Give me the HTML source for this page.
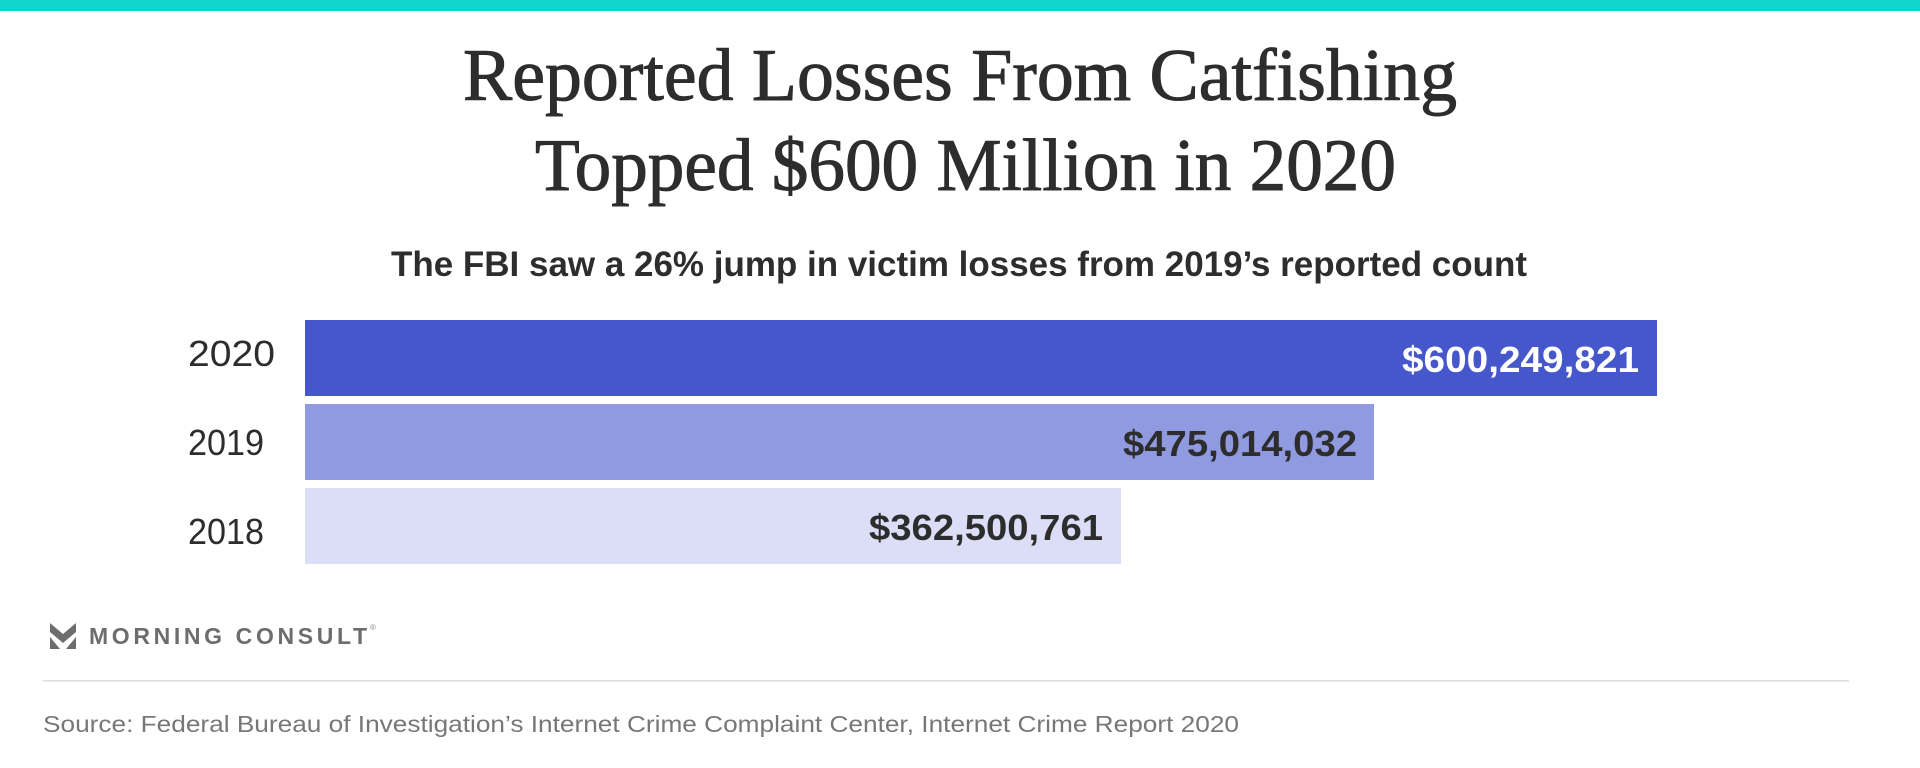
<!DOCTYPE html>
<html>
<head>
<meta charset="utf-8">
<style>
  html, body { margin: 0; padding: 0; background: #ffffff; }
  body { width: 1920px; height: 768px; overflow: hidden; }
  svg { display: block; }
</style>
</head>
<body>
<svg width="1920" height="768" viewBox="0 0 1920 768" xmlns="http://www.w3.org/2000/svg">
  <rect x="0" y="0" width="1920" height="768" fill="#ffffff"/>
  <!-- top teal bar -->
  <rect x="0" y="0" width="1920" height="11" fill="#10d5cc"/>

  <!-- Title -->
  <text x="463" y="100" font-family="'Liberation Serif', serif" font-size="74" fill="#2d2d2d" stroke="#2d2d2d" stroke-width="1" textLength="994" lengthAdjust="spacingAndGlyphs">Reported Losses From Catfishing</text>
  <text x="535" y="190" font-family="'Liberation Serif', serif" font-size="74" fill="#2d2d2d" stroke="#2d2d2d" stroke-width="1" textLength="861" lengthAdjust="spacingAndGlyphs">Topped $600 Million in 2020</text>

  <!-- Subtitle -->
  <text x="391" y="276" font-family="'Liberation Sans', sans-serif" font-weight="bold" font-size="35" fill="#2d2d2d" textLength="1136" lengthAdjust="spacingAndGlyphs">The FBI saw a 26% jump in victim losses from 2019’s reported count</text>

  <!-- Bars -->
  <rect x="305" y="320" width="1352" height="76" fill="#4657cc"/>
  <rect x="305" y="404" width="1069" height="76" fill="#8f9ae0"/>
  <rect x="305" y="488" width="816" height="76" fill="#dcddf6"/>

  <!-- Year labels -->
  <text x="188" y="366" font-family="'Liberation Sans', sans-serif" font-size="36" fill="#2d2d2d" textLength="87" lengthAdjust="spacingAndGlyphs">2020</text>
  <text x="188" y="455" font-family="'Liberation Sans', sans-serif" font-size="36" fill="#2d2d2d" textLength="76" lengthAdjust="spacingAndGlyphs">2019</text>
  <text x="188" y="544" font-family="'Liberation Sans', sans-serif" font-size="36" fill="#2d2d2d" textLength="76" lengthAdjust="spacingAndGlyphs">2018</text>

  <!-- Value labels -->
  <text x="1402" y="372" font-family="'Liberation Sans', sans-serif" font-weight="bold" font-size="36" fill="#ffffff" textLength="237" lengthAdjust="spacingAndGlyphs">$600,249,821</text>
  <text x="1123" y="456" font-family="'Liberation Sans', sans-serif" font-weight="bold" font-size="36" fill="#2d2d2d" textLength="234" lengthAdjust="spacingAndGlyphs">$475,014,032</text>
  <text x="869" y="540" font-family="'Liberation Sans', sans-serif" font-weight="bold" font-size="36" fill="#2d2d2d" textLength="234" lengthAdjust="spacingAndGlyphs">$362,500,761</text>

  <!-- Morning Consult logo -->
  <g fill="#6d6d6d">
    <polygon points="50,623 63,634 76,623 76,632 63,643 50,632"/>
    <polygon points="50,637 60,649 50,649"/>
    <polygon points="76,637 76,649 66,649"/>
  </g>
  <text x="89" y="644" font-family="'Liberation Sans', sans-serif" font-weight="bold" font-size="23" fill="#6d6d6d" textLength="278" lengthAdjust="spacing">MORNING CONSULT</text>
  <text x="370" y="630" font-family="'Liberation Sans', sans-serif" font-size="8" fill="#8a8a8a">®</text>

  <!-- Divider -->
  <rect x="43" y="680" width="1806" height="1.5" fill="#dcdcdc"/>

  <!-- Source -->
  <text x="43" y="732" font-family="'Liberation Sans', sans-serif" font-size="23" fill="#777777" textLength="1196" lengthAdjust="spacingAndGlyphs">Source: Federal Bureau of Investigation’s Internet Crime Complaint Center, Internet Crime Report 2020</text>
</svg>
</body>
</html>
